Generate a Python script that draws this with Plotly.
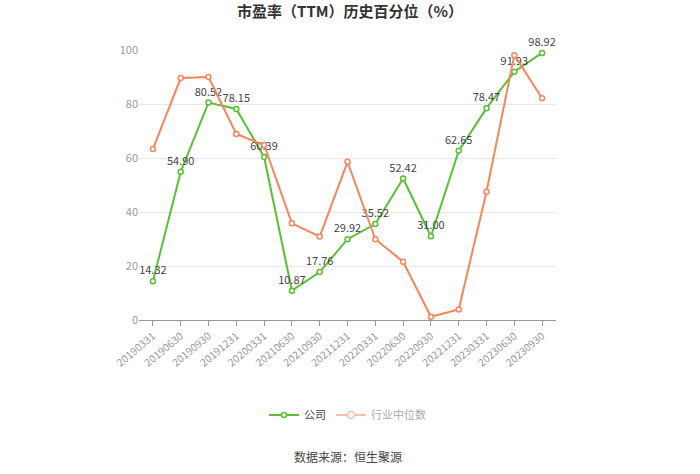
import plotly.graph_objects as go

categories = ["20190331", "20190630", "20190930", "20191231", "20200331", "20210630",
              "20210930", "20211231", "20220331", "20220630", "20220930", "20221231",
              "20230331", "20230630", "20230930"]
company = [14.32, 54.90, 80.52, 78.15, 60.39, 10.87, 17.76, 29.92, 35.52, 52.42,
           31.00, 62.65, 78.47, 91.93, 98.92]
industry = [63.3, 89.6, 90.0, 68.9, 64.8, 35.8, 30.9, 58.6, 29.9, 21.6,
            1.2, 3.9, 47.5, 98.1, 82.1]
yticks = [0, 20, 40, 60, 80, 100]

green = "#5bbf33"
orange = "#f7855c"
orange_faded = "#f8bfa8"

fig = go.Figure()
fig.add_trace(go.Scatter(
    x=categories, y=company, name="公司", mode="lines+markers+text",
    line=dict(color=green, width=2),
    marker=dict(symbol="circle", size=5, color="white", line=dict(color=green, width=1.5)),
    text=[f"{v:.2f}" for v in company], textposition="top center",
    textfont=dict(size=11, color="#444"), cliponaxis=False,
))
fig.add_trace(go.Scatter(
    x=categories, y=industry, name="行业中位数", mode="lines+markers",
    line=dict(color=orange, width=2),
    marker=dict(symbol="circle", size=5, color="white", line=dict(color=orange, width=1.5)),
    cliponaxis=False, showlegend=False,
))
# legend entry for industry (shown faded as in the reference)
fig.add_trace(go.Scatter(
    x=[None], y=[None], name="<span style='color:#aaa'>行业中位数</span>", mode="lines+markers",
    line=dict(color=orange_faded, width=2),
    marker=dict(symbol="circle", size=7, color="white", line=dict(color=orange_faded, width=1.5)),
))

fig.update_layout(
    width=700, height=474,
    margin=dict(l=139, r=144, t=50, b=154),
    paper_bgcolor="white", plot_bgcolor="white",
    font=dict(family="Noto Sans CJK SC, sans-serif", color="#666"),
    title=dict(text="<b>市盈率（TTM）历史百分位（%）</b>", x=0.5, xanchor="center",
               y=0.975, yanchor="middle", font=dict(size=15, color="#333")),
    xaxis=dict(type="category", categoryorder="array", categoryarray=categories,
               range=[-0.5, len(categories) - 0.5],
               showgrid=False, showline=True, linecolor="#999", linewidth=1,
               ticks="outside", tickcolor="#999", ticklen=5, tickangle=-40,
               tickfont=dict(size=10.5, color="#999"), zeroline=False, automargin=False),
    yaxis=dict(range=[0, 100], tickvals=yticks, showgrid=True, gridcolor="#e8e8e8",
               zeroline=False, showline=False, ticks="", tickfont=dict(size=11, color="#999"),
               ticksuffix="  ", automargin=False),
    legend=dict(orientation="h", x=0.5, xanchor="center", y=-0.352, yanchor="middle",
                font=dict(size=11, color="#444"), itemwidth=30),
    showlegend=True,
)
fig.add_annotation(text="数据来源：恒生聚源", xref="paper", yref="paper", x=0.5, y=-0.507,
                   xanchor="center", yanchor="middle", showarrow=False,
                   font=dict(size=12, color="#444"))

fig.write_html("out.html")
